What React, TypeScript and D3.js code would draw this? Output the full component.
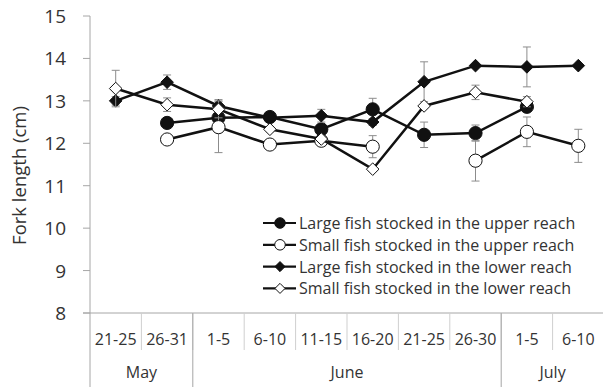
import React from "react";
import * as d3 from "d3";

// Five-day periods and the month each belongs to
const periods = ["21-25", "26-31", "1-5", "6-10", "11-15", "16-20", "21-25", "26-30", "1-5", "6-10"];
const monthNames = ["May", "June", "July"];
const monthSpans = [[0, 1], [2, 7], [8, 9]];
const yTicks = [8, 9, 10, 11, 12, 13, 14, 15];

// Mean fork length (cm) per period; null = no sample
const largeUpper = [null, 12.48, 12.6, 12.62, 12.33, 12.8, 12.2, 12.24, 12.86, null];
const largeUpperErr = [0, 0, 0, 0, 0, 0.26, 0.3, 0.19, 0.1, 0];
const smallUpper = [null, 12.09, 12.38, 11.97, 12.06, 11.92, null, 11.59, 12.27, 11.94];
const smallUpperErr = [0, 0, 0.6, 0, 0, 0.26, 0, 0.48, 0.35, 0.39];
const largeLower = [13.0, 13.44, 12.88, 12.6, 12.65, 12.5, 13.45, 13.83, 13.8, 13.83];
const largeLowerErr = [0.1, 0.17, 0.15, 0, 0.15, 0.08, 0.47, 0, 0.47, 0];
const smallLower = [13.29, 12.91, 12.8, 12.33, 12.1, 11.39, 12.88, 13.2, 12.98, null];
const smallLowerErr = [0.43, 0.16, 0.2, 0.06, 0.05, 0.05, 0.05, 0.17, 0.12, 0];

const seriesLabels = [
  "Large fish stocked in the upper reach",
  "Small fish stocked in the upper reach",
  "Large fish stocked in the lower reach",
  "Small fish stocked in the lower reach",
];

type Shape = "circle" | "diamond";
const series = [
  { label: seriesLabels[0], values: largeUpper, err: largeUpperErr, shape: "circle" as Shape, filled: true },
  { label: seriesLabels[1], values: smallUpper, err: smallUpperErr, shape: "circle" as Shape, filled: false },
  { label: seriesLabels[2], values: largeLower, err: largeLowerErr, shape: "diamond" as Shape, filled: true },
  { label: seriesLabels[3], values: smallLower, err: smallLowerErr, shape: "diamond" as Shape, filled: false },
];

const W = 603;
const H = 387;
const left = 90;
const right = 604;
const top = 16;
const bottom = 313;
const font = "'Open Sans', 'Noto Sans', sans-serif";
const textColor = "#333";
const axisColor = "#a6a6a6";

function Marker({ shape, filled, x, y, scale = 1 }: { shape: Shape; filled: boolean; x: number; y: number; scale?: number }) {
  const fill = filled ? "#111" : "#fff";
  if (shape === "circle") {
    return <circle cx={x} cy={y} r={6.6 * scale} fill={fill} stroke="#111" strokeWidth={1} />;
  }
  const r = 6.3 * scale;
  return (
    <path
      d={`M${x},${y - r}L${x + r},${y}L${x},${y + r}L${x - r},${y}Z`}
      fill={fill}
      stroke="#111"
      strokeWidth={1}
    />
  );
}

export default function App() {
  const x = d3.scaleBand<number>().domain(d3.range(periods.length)).range([left, right]);
  const cx = (i: number) => (x(i) as number) + x.bandwidth() / 2;
  const y = d3.scaleLinear().domain([8, 15]).range([bottom, top]);

  const line = d3
    .line<number | null>()
    .defined((d) => d != null)
    .x((_, i) => cx(i))
    .y((d) => y(d as number));

  const monthBounds = monthSpans.map(([a, b]) => [x(a) as number, (x(b) as number) + x.bandwidth()]);

  return (
    <svg width={W} height={H} style={{ position: "absolute", left: 0, top: 0 }} fontFamily={font}>
      <rect width={W} height={H} fill="#fff" />

      {/* y axis */}
      <line x1={left} x2={left} y1={top} y2={H} stroke={axisColor} strokeWidth={1} />
      {yTicks.map((t) => (
        <g key={t}>
          <line x1={left - 7} x2={left} y1={y(t)} y2={y(t)} stroke={axisColor} strokeWidth={1} />
          <text x={66} y={y(t)} textAnchor="end" dominantBaseline="central" fontSize={19} fill={textColor}>
            {t}
          </text>
        </g>
      ))}
      <text
        transform={`translate(18,${(top + bottom) / 2 + 11}) rotate(-90)`}
        textAnchor="middle"
        dominantBaseline="central"
        fontSize={18.5}
        fill={textColor}
      >
        Fork length (cm)
      </text>

      {/* x axis with two-level categories */}
      <line x1={left - 7} x2={right} y1={bottom} y2={bottom} stroke={axisColor} strokeWidth={1} />
      {periods.map((p, i) => (
        <g key={i}>
          {i > 0 && (
            <line
              x1={x(i) as number}
              x2={x(i) as number}
              y1={bottom}
              y2={350}
              stroke="#cfcfcf"
              strokeWidth={1}
            />
          )}
          <text x={cx(i)} y={345} textAnchor="middle" fontSize={16} fill={textColor}>
            {p}
          </text>
        </g>
      ))}
      {monthBounds.map(([a, b], i) => (
        <g key={monthNames[i]}>
          <line x1={b} x2={b} y1={bottom} y2={H} stroke={axisColor} strokeWidth={1} />
          <text x={(a + b) / 2} y={378} textAnchor="middle" fontSize={16} fill={textColor}>
            {monthNames[i]}
          </text>
        </g>
      ))}

      {/* series: error bars, line, markers */}
      {series.map((s, si) => (
        <g key={si}>
          {s.values.map((v, i) =>
            v != null && s.err[i] > 0 ? (
              <g key={i} stroke="#8c8c8c" strokeWidth={1}>
                <line x1={cx(i)} x2={cx(i)} y1={y(v - s.err[i])} y2={y(v + s.err[i])} />
                <line x1={cx(i) - 4} x2={cx(i) + 4} y1={y(v - s.err[i])} y2={y(v - s.err[i])} />
                <line x1={cx(i) - 4} x2={cx(i) + 4} y1={y(v + s.err[i])} y2={y(v + s.err[i])} />
              </g>
            ) : null
          )}
          <path d={line(s.values) || ""} fill="none" stroke="#111" strokeWidth={2.5} />
          {s.values.map((v, i) =>
            v != null ? <Marker key={i} shape={s.shape} filled={s.filled} x={cx(i)} y={y(v)} /> : null
          )}
        </g>
      ))}

      {/* legend */}
      {series.map((s, si) => {
        const ly = 223 + si * 21.8;
        return (
          <g key={si}>
            <line x1={263} x2={296} y1={ly} y2={ly} stroke="#111" strokeWidth={2.2} />
            <Marker shape={s.shape} filled={s.filled} x={280} y={ly} scale={0.8} />
            <text x={299} y={ly} dominantBaseline="central" fontSize={16} fill={textColor}>
              {s.label}
            </text>
          </g>
        );
      })}
    </svg>
  );
}
